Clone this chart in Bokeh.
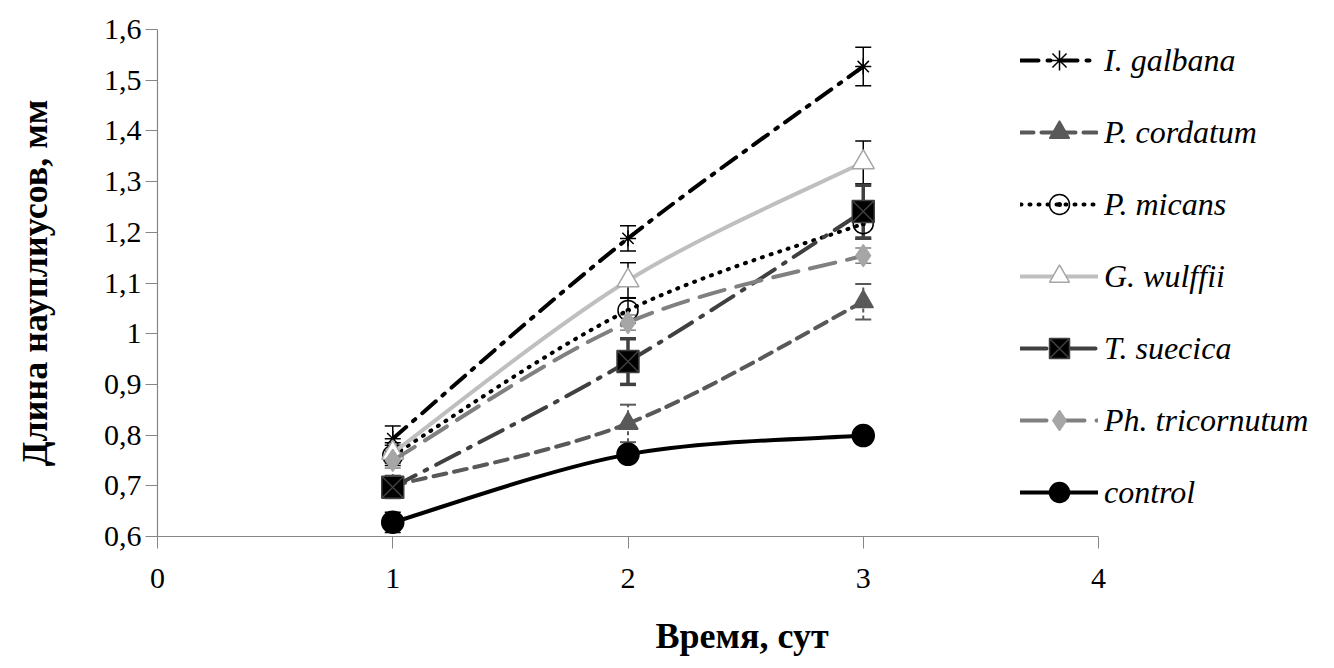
from bokeh.plotting import figure
from bokeh.models import (ColumnDataSource, Whisker, TeeHead, Legend, LegendItem,
                          FixedTicker, Range1d)
from bokeh.embed import file_html
from bokeh.resources import INLINE

# ---------------- data ----------------
days = [1, 2, 3]
series_names = ["I. galbana", "P. cordatum", "P. micans", "G. wulffii",
                "T. suecica", "Ph. tricornutum", "control"]
galbana = [0.793, 1.188, 1.527]
cordatum = [0.700, 0.823, 1.063]
micans = [0.760, 1.046, 1.217]
wulffii = [0.765, 1.105, 1.338]
suecica = [0.697, 0.945, 1.241]
tricornutum = [0.750, 1.022, 1.154]
control = [0.628, 0.762, 0.799]

err_galbana = [0.025, 0.025, 0.038]
err_cordatum = [0.020, 0.037, 0.035]
err_micans = [0.020, 0.025, 0.030]
err_wulffii = [0.020, 0.035, 0.042]
err_suecica = [0.020, 0.045, 0.052]
err_tricornutum = [0.015, 0.015, 0.015]
err_control = [0.020, 0.010, 0.010]

x_ticks = [0, 1, 2, 3, 4]
y_ticks = [0.6, 0.7, 0.8, 0.9, 1.0, 1.1, 1.2, 1.3, 1.4, 1.5, 1.6]
y_tick_labels = ["0,6", "0,7", "0,8", "0,9", "1", "1,1", "1,2", "1,3", "1,4", "1,5", "1,6"]
x_title = "Время, сут"
y_title = "Длина науплиусов, мм"

values = [galbana, cordatum, micans, wulffii, suecica, tricornutum, control]
errors = [err_galbana, err_cordatum, err_micans, err_wulffii, err_suecica,
          err_tricornutum, err_control]

# ---------------- styles ----------------
styles = [
    dict(color="#000000", dash="18 9 3 9", marker="asterisk", mfill="#000000", mline="#000000",
         msize=16, ecolor="#000000", edash="solid", ewidth=1.5),
    dict(color="#595959", dash="13 8", marker="triangle", mfill="#595959", mline="#595959",
         msize=20, ecolor="#595959", edash="4 3", ewidth=2),
    dict(color="#000000", dash="1 8", marker="circle_dot", mfill=None, mline="#000000",
         msize=20, ecolor="#000000", edash="solid", ewidth=1.5),
    dict(color="#bfbfbf", dash="solid", marker="triangle", mfill="#ffffff", mline="#a6a6a6",
         msize=22, ecolor="#000000", edash="solid", ewidth=1.5),
    dict(color="#404040", dash="26 10 3 10", marker="square_x", mfill="#000000", mline="#404040",
         msize=22, ecolor="#404040", edash="solid", ewidth=3.5),
    dict(color="#808080", dash="26 12", marker="diamond", mfill="#a6a6a6", mline="#a6a6a6",
         msize=22, ecolor="#808080", edash="solid", ewidth=1.5),
    dict(color="#000000", dash="solid", marker="circle", mfill="#000000", mline="#000000",
         msize=22, ecolor="#000000", edash="solid", ewidth=1.5),
]

W, H = 1326, 660
BL, BT, BB = 157, 29, 124          # borders around the plotting frame
AXIS_PX = 941                      # pixel length of x axis 0..4
x_end = x_ticks[-1] * (W - BL) / AXIS_PX   # frame extends right to hold the legend

p = figure(width=W, height=H, output_backend="svg", toolbar_location=None,
           x_range=Range1d(x_ticks[0], x_end), y_range=Range1d(y_ticks[0], y_ticks[-1]),
           min_border_left=BL, min_border_right=0, min_border_top=BT,
           min_border_bottom=BB)
p.outline_line_color = None
p.xgrid.visible = False
p.ygrid.visible = False
p.background_fill_color = "white"
p.border_fill_color = "white"

FONT = "Liberation Serif"
for ax in (p.xaxis[0], p.yaxis[0]):
    ax.axis_line_color = "#868686"
    ax.axis_line_width = 1.2
    ax.major_tick_line_color = "#868686"
    ax.major_tick_out = 12
    ax.major_tick_in = 0
    ax.minor_tick_line_color = None
    ax.major_label_text_font = FONT
    ax.major_label_text_font_size = "30px"
    ax.major_label_text_color = "#000000"
    ax.axis_label_text_font = FONT
    ax.axis_label_text_font_size = "36px"
    ax.axis_label_text_font_style = "bold"
    ax.axis_label_text_color = "#000000"

p.xaxis.bounds = (x_ticks[0], x_ticks[-1])
p.xaxis.ticker = FixedTicker(ticks=x_ticks)
p.yaxis.ticker = FixedTicker(ticks=y_ticks)
p.yaxis.major_label_overrides = {t: l for t, l in zip(y_ticks, y_tick_labels)}
p.xaxis.axis_label = x_title
p.yaxis.axis_label = y_title
p.xaxis.major_label_standoff = 20
p.yaxis.major_label_standoff = 4
p.xaxis.axis_label_standoff = 25
p.yaxis.axis_label_standoff = 46


def smooth_segments(xs, ys):
    """Bezier control points (Catmull-Rom, as in spreadsheet smoothed lines)."""
    n = len(xs)
    seg = dict(x0=[], y0=[], x1=[], y1=[], cx0=[], cy0=[], cx1=[], cy1=[])
    for i in range(n - 1):
        xm = xs[i - 1] if i > 0 else xs[i]
        ym = ys[i - 1] if i > 0 else ys[i]
        xp = xs[i + 2] if i + 2 < n else xs[i + 1]
        yp = ys[i + 2] if i + 2 < n else ys[i + 1]
        seg["x0"].append(xs[i]); seg["y0"].append(ys[i])
        seg["x1"].append(xs[i + 1]); seg["y1"].append(ys[i + 1])
        seg["cx0"].append(xs[i] + (xs[i + 1] - xm) / 6.0)
        seg["cy0"].append(ys[i] + (ys[i + 1] - ym) / 6.0)
        seg["cx1"].append(xs[i + 1] - (xp - xs[i]) / 6.0)
        seg["cy1"].append(ys[i + 1] - (yp - ys[i]) / 6.0)
    return seg


nan = float("nan")
items = []
for name, vals, errs, st in zip(series_names, values, errors, styles):
    esrc = ColumnDataSource(dict(x=days,
                                 upper=[v + e for v, e in zip(vals, errs)],
                                 lower=[v - e for v, e in zip(vals, errs)]))
    w = Whisker(base="x", upper="upper", lower="lower", source=esrc,
                line_color=st["ecolor"], line_width=st["ewidth"], line_dash=st["edash"],
                upper_head=TeeHead(size=16, line_color=st["ecolor"], line_width=st["ewidth"]),
                lower_head=TeeHead(size=16, line_color=st["ecolor"], line_width=st["ewidth"]))
    p.add_layout(w)
    seg = smooth_segments(days, vals)
    p.bezier(x0="x0", y0="y0", x1="x1", y1="y1", cx0="cx0", cy0="cy0", cx1="cx1", cy1="cy1",
             source=ColumnDataSource(seg), line_color=st["color"], line_width=4,
             line_dash=st["dash"], line_cap="round")
    proxy = p.line(x=[nan, nan], y=[nan, nan], line_color=st["color"], line_width=4,
                   line_dash=st["dash"], line_cap="round")
    sc = p.scatter(x=days, y=vals, marker=st["marker"], size=st["msize"],
                   fill_color=st["mfill"], line_color=st["mline"], line_width=1.5)
    items.append(LegendItem(label=name, renderers=[proxy, sc]))

legend = Legend(items=items, location=(863, 19), orientation="vertical",
                glyph_width=78, glyph_height=50, label_height=50, spacing=22,
                label_standoff=6, padding=0, margin=0,
                border_line_color=None, background_fill_alpha=0,
                label_text_font=FONT, label_text_font_size="32px",
                label_text_font_style="italic", label_text_color="#000000")
p.add_layout(legend)

open("out.html", "w").write(file_html(p, INLINE))
